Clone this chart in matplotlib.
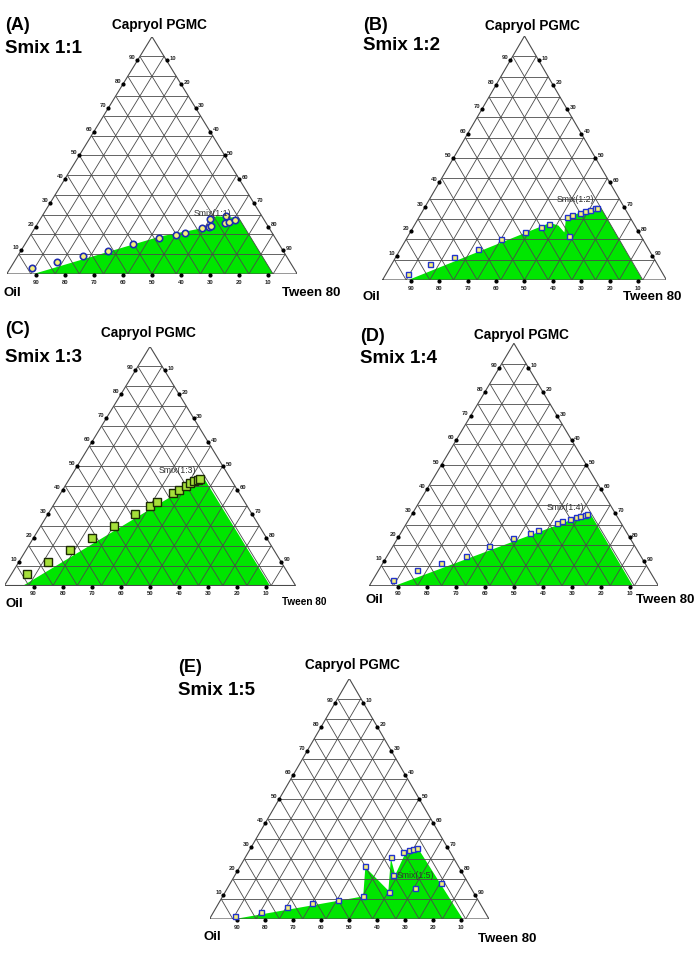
import numpy as np
import matplotlib.pyplot as plt

plt.rcParams['font.family'] = ['Liberation Sans', 'DejaVu Sans']

# compositions in % : capryol = top vertex, tween = right vertex, oil = rest
# (A) Smix 1:1
a_cap = [2.4, 4.9, 7.5, 9.8, 12.5, 15.0, 16.6, 17.4, 19.3, 19.8, 20.1, 23.2, 21.5, 22.0, 22.6, 24.4]
a_tw = [7.6, 15.0, 22.4, 30.1, 37.3, 45.0, 50.0, 52.6, 57.7, 59.6, 60.2, 58.4, 64.5, 65.6, 67.4, 63.3]
a_reg_cap = [0, 15.8, 19.8, 24.4, 23.6, 0]
a_reg_tw = [9.2, 44.9, 59.4, 59.8, 68.1, 91.7]

# (B) Smix 1:2
b_cap = [2.5, 6.6, 9.5, 12.7, 16.8, 19.5, 21.7, 23.0, 25.7, 26.6, 27.5, 28.2, 28.6, 29.4, 29.6, 18.2]
b_tw = [7.7, 13.5, 20.6, 27.4, 33.4, 40.6, 45.0, 47.0, 52.2, 53.4, 55.8, 57.3, 58.7, 60.1, 60.7, 56.7]
b_reg_cap = [0, 23.4, 22.3, 19.5, 25.7, 30.2, 0]
b_reg_tw = [9.1, 47.3, 50.8, 54.3, 51.8, 61.5, 91.6]

# (C) Smix 1:3
c_cap = [4.8, 9.7, 15.0, 19.7, 24.8, 29.9, 33.4, 34.8, 38.7, 40.0, 41.8, 42.9, 43.6, 44.3, 44.6]
c_tw = [5.2, 10.2, 15.0, 20.2, 25.2, 30.0, 33.3, 34.9, 38.5, 40.0, 41.4, 42.3, 43.3, 44.3, 44.9]
c_reg_cap = [0, 45.3, 0]
c_reg_tw = [6.5, 45.7, 91.2]

# (D) Smix 1:4
d_cap = [2.5, 6.5, 9.4, 12.4, 16.5, 19.6, 21.6, 23.0, 25.7, 26.6, 27.5, 28.2, 28.6, 29.3, 29.7]
d_tw = [6.8, 13.2, 20.1, 27.1, 33.3, 40.0, 44.8, 46.7, 52.0, 53.3, 55.7, 57.3, 58.6, 59.8, 60.5]
d_reg_cap = [0, 30.0, 0]
d_reg_tw = [8.9, 61.3, 91.1]

# (E) Smix 1:5
e_cap = [1.4, 3.0, 4.9, 6.5, 8.0, 9.7, 22.0, 11.4, 25.9, 18.4, 27.7, 28.6, 29.0, 29.5, 13.0, 14.8]
e_tw = [8.4, 16.8, 25.2, 33.6, 41.9, 50.1, 44.7, 58.4, 52.0, 56.6, 55.5, 57.0, 58.2, 59.5, 67.0, 75.3]
e_reg_cap = [0, 9.4, 21.5, 11.8, 25.2, 18.3, 27.4, 29.4, 0]
e_reg_tw = [9.1, 50.3, 45.0, 58.1, 52.3, 57.3, 56.4, 59.9, 90.6]

tick_vals = [10, 20, 30, 40, 50, 60, 70, 80, 90]

FW, FH = 699, 954
fig = plt.figure(figsize=(FW / 100, FH / 100), dpi=100)


def tern(cap, tw):
    cap = np.asarray(cap, float) / 100
    tw = np.asarray(tw, float) / 100
    return tw + cap / 2, cap


def ftext(x, y, s, **kw):
    fig.text(x / FW, 1 - y / FH, s, **kw)


circle = dict(marker='o', ms=4.6, mfc='#f6f07c', mec='#1f2cb0', mew=1.2)
square = dict(marker='s', ms=3.6, mfc='#f6f07c', mec='#2233cc', mew=1.0)
square_c = dict(marker='s', ms=5.2, mfc='#a6e03a', mec='#1c2a05', mew=1.0)

# letter, smix, triangle box (x0, ybase, w, h in px), points, region, marker,
# title x, baselines, capryol x, oil/tween label positions, smix label pos
panels = [
    ('(A)', '1:1', (6.7, 275, 290.6, 237.3), a_cap, a_tw, a_reg_cap, a_reg_tw, circle,
     5, 30.5, 53, 159.5, 29.5, (4, 296), (282, 296, 9.5), (212, 213)),
    ('(B)', '1:2', (382.5, 281, 284, 244), b_cap, b_tw, b_reg_cap, b_reg_tw, square,
     363, 30, 50, 532, 30, (363, 300), (623, 300, 9.5), (575, 200)),
    ('(C)', '1:3', (4.5, 586.5, 291, 239), c_cap, c_tw, c_reg_cap, c_reg_tw, square_c,
     5, 334, 361.5, 148, 337, (5, 607), (282, 605, 7.2), (177.5, 471)),
    ('(D)', '1:4', (369.4, 586.7, 289, 242.4), d_cap, d_tw, d_reg_cap, d_reg_tw, square,
     360, 341, 363, 521, 339, (365, 603), (636, 603, 9.5), (565, 507.5)),
    ('(E)', '1:5', (209.5, 920, 279.5, 240.5), e_cap, e_tw, e_reg_cap, e_reg_tw, square,
     178, 672, 695, 352, 669, (203, 940), (478, 942, 9.5), (397, 876)),
]

grid_kw = dict(color='#4a4a4a', lw=0.6, zorder=2, solid_capstyle='butt')

for (lab, smix, box, cap, tw, rcap, rtw, mk, tx, yb1, yb2, cx, cyb,
     oil_pos, tw_pos, smix_pos) in panels:
    x0, yb, w, h = box
    ax = fig.add_axes([x0 / FW, 1 - yb / FH, w / FW, h / FH])
    ax.set_xlim(0, 1)
    ax.set_ylim(0, 1)
    ax.axis('off')

    rx, ry = tern(rcap, rtw)
    ax.fill(rx, ry, color='#00e600', lw=0, zorder=1)

    n = 12
    for k in range(1, n):
        f = k / n
        ax.plot([f / 2, 1 - f / 2], [f, f], **grid_kw)
        ax.plot([f, f + (1 - f) / 2], [0, 1 - f], **grid_kw)
        ax.plot([1 - f, (1 - f) / 2], [0, 1 - f], **grid_kw)
    ax.plot([0, 1, 0.5, 0], [0, 0, 1, 0], color='#4a4a4a', lw=0.8, zorder=2)

    # ticks on the three edges
    for v in tick_vals:
        bx, by = 1 - v / 100, -1.2 / h
        lx, ly = tern(v, 0)
        rxx, ryy = tern(100 - v, v)
        for (px, py, off) in [(bx, by, (0, -6)), (lx, ly, (-5, 3.5)), (rxx, ryy, (6, 3))]:
            ax.plot(px, py, 'o', ms=2.0, color='k', zorder=5, clip_on=False)
            ax.annotate(str(v), (px, py), xytext=off, textcoords='offset pixels',
                        ha='center', va='center', fontsize=4.2, fontweight='bold',
                        color='#222222', annotation_clip=False)

    px_, py_ = tern(cap, tw)
    ax.plot(px_, py_, ls='none', zorder=6, clip_on=False, **mk)

    ftext(tx, yb1, lab, fontsize=13, fontweight='bold', va='baseline')
    ftext(tx, yb2, 'Smix ' + smix, fontsize=13.5, fontweight='bold', va='baseline')
    ftext(cx, cyb, 'Capryol PGMC', fontsize=9.8, fontweight='bold', ha='center', va='baseline')
    ftext(oil_pos[0], oil_pos[1], 'Oil', fontsize=9.5, fontweight='bold', va='baseline')
    ftext(tw_pos[0], tw_pos[1], 'Tween 80', fontsize=tw_pos[2], fontweight='bold', va='baseline')
    ftext(smix_pos[0], smix_pos[1], 'Smix(' + smix + ')', fontsize=6.3, color='#333333',
          ha='left' if lab == '(E)' else 'center', va='center')

fig.savefig('out.png', dpi=100, facecolor='white')
